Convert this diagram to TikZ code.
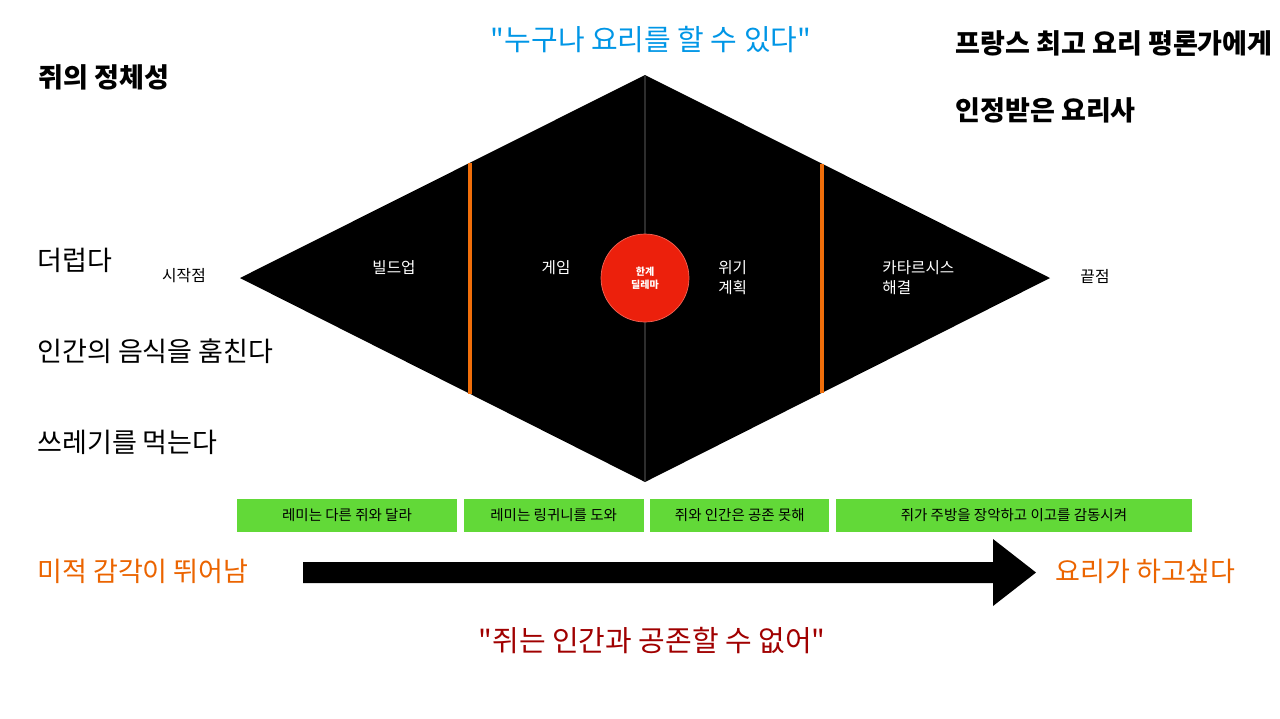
\documentclass[tikz,border=0pt]{standalone}
\usepackage{fontspec}
\setmainfont{Noto Sans CJK KR}[Ligatures=TeXOff]
\usepackage{tikz}
\usetikzlibrary{positioning, calc, arrows.meta}
\definecolor{quoteblue}{RGB}{0, 150, 230}
\definecolor{quotered}{RGB}{160, 0, 0}
\definecolor{beatorange}{RGB}{240, 110, 10}
\definecolor{wishorange}{RGB}{235, 100, 0}
\definecolor{dilemred}{RGB}{236, 32, 12}
\definecolor{scenegreen}{RGB}{98, 217, 56}
\definecolor{axisgray}{RGB}{45, 45, 45}

\begin{document}
\begin{tikzpicture}[
  x=0.02cm, y=-0.02cm,
  lbl/.style={anchor=west, inner sep=0pt, font=\fontsize{15.4}{18}\selectfont},
  lblbold/.style={anchor=west, inner sep=0pt, font=\fontsize{15.4}{18}\selectfont\bfseries},
  quote/.style={inner sep=0pt, font=\fontsize{16.5}{19}\selectfont},
  beat/.style={inner sep=0pt, text=white, align=left, font=\fontsize{8.9}{11.3}\selectfont},
  endlbl/.style={inner sep=0pt, font=\fontsize{9}{11}\selectfont},
  scene/.style={fill=scenegreen, minimum height=0.66cm, inner sep=0pt, font=\fontsize{8.25}{10}\selectfont}
]
  \useasboundingbox (0,0) rectangle (1280,718);

  \coordinate (L) at (240,278);
  \coordinate (T) at (645,75);
  \coordinate (R) at (1050,278);
  \coordinate (B) at (645,482);
  \fill (L) -- (T) -- (R) -- (B) -- cycle;
  \draw[axisgray, line width=0.03cm] (T) -- (B);
  \draw[beatorange, line width=0.08cm] ($(L)!0.568!(T)$) -- ($(L)!0.568!(B)$);
  \draw[beatorange, line width=0.08cm] ($(R)!0.563!(T)$) -- ($(R)!0.563!(B)$);

  \node[circle, fill=dilemred, draw=dilemred!70!white, line width=0.4pt, minimum size=1.76cm,
        text=white, align=center, font=\fontsize{5.7}{7.5}\selectfont\bfseries] (dilemma) at (645,278) {한계\\딜레마};

  \node[beat] (buildup) at (394,268) {빌드업};
  \node[beat] (game) at (556,268) {게임};
  \node[beat, anchor=west] (crisis) at (718,278) {위기\\계획};
  \node[beat, anchor=west] (catharsis) at (882,278) {카타르시스\\해결};
  \node[endlbl] (start) at (184,276) {시작점};
  \node[endlbl] (finish) at (1095,276) {끝점};

  \node[quote, text=quoteblue] (anyone) at (651,40) {"누구나 요리를 할 수 있다"};
  \node[quote, text=quotered] (coexist) at (652,641) {"쥐는 인간과 공존할 수 없어"};

  \node[lblbold] (identity) at (38,77) {쥐의 정체성};
  \node[lbl] (dirty) at (37,260) {더럽다};
  \node[lbl] (steal) at (37,351) {인간의 음식을 훔친다};
  \node[lbl] (trash) at (37,442) {쓰레기를 먹는다};
  \node[lblbold] (critic) at (955,44) {프랑스 최고 요리 평론가에게};
  \node[lblbold] (chef) at (955,110) {인정받은 요리사};

  \node[scene, minimum width=4.4cm] (s1) at (347,515.5) {레미는 다른 쥐와 달라};
  \node[scene, minimum width=3.6cm, right=0.12cm of s1] (s2) {레미는 링귀니를 도와};
  \node[scene, minimum width=3.58cm, right=0.12cm of s2] (s3) {쥐와 인간은 공존 못해};
  \node[scene, minimum width=7.12cm, right=0.12cm of s3] (s4) {쥐가 주방을 장악하고 이고를 감동시켜};

  \node[lbl, text=wishorange] (taste) at (37,571) {미적 감각이 뛰어남};
  \node[lbl, text=wishorange] (cook) at (1055,571) {요리가 하고싶다};

  \coordinate (a0) at (303,572.5);
  \coordinate (a1) at (1036,572.5);
  \fill ($(a0)+(0,-10.5)$) -- ($(a1)+(-43,-10.5)$) -- ($(a1)+(-43,-33.5)$) -- (a1)
    -- ($(a1)+(-43,33.5)$) -- ($(a1)+(-43,10.5)$) -- ($(a0)+(0,10.5)$) -- cycle;
\end{tikzpicture}
\end{document}
